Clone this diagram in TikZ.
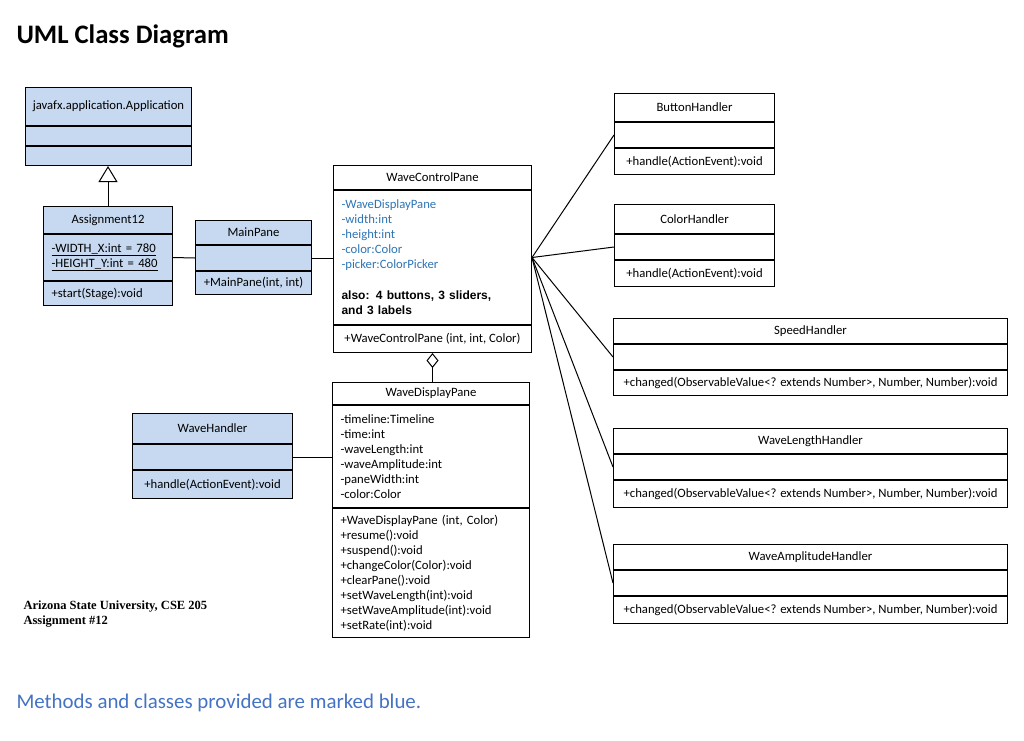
\documentclass[tikz,border=0pt]{standalone}
\usepackage{fontspec}
\setmainfont{Carlito}
\newfontfamily\serifbold{Liberation Serif}
\newfontfamily\arialfont{Liberation Sans}
\usepackage{tikz}
\usetikzlibrary{positioning,arrows.meta}
\definecolor{clsblue}{RGB}{198,217,240}
\definecolor{attrblue}{RGB}{46,116,181}
\definecolor{noteblue}{RGB}{68,114,196}

\begin{document}
\begin{tikzpicture}[x=1pt, y=-1pt, line width=1pt,
  box/.style={draw, inner ysep=0pt, font=\fontsize{12.7}{15}\selectfont},
  part/.style={box, minimum width=#1, inner xsep=0pt, align=center},
  list/.style={box, text width=#1, inner xsep=8pt, align=left}]
\useasboundingbox (0,0) rectangle (1024,740);

\node [anchor=west, inner sep=0pt, font=\fontsize{26.7}{30}\selectfont\bfseries] (title) at (16,36) {UML Class Diagram};

% provided classes
\node [part=166, minimum height=38, fill=clsblue, anchor=north west] (app) at (25,87) {javafx.application.Application};
\node [part=166, minimum height=19, fill=clsblue, below=0pt of app] (appA) {};
\node [part=166, minimum height=19, fill=clsblue, below=0pt of appA] (appM) {};

\node [part=129, minimum height=27, fill=clsblue, anchor=north west] (asg) at (43,206) {Assignment12};
\node [list=113, minimum height=46, fill=clsblue, below=0pt of asg] (asgA) {\underline{-WIDTH\_X:int = 780}\\\underline{-HEIGHT\_Y:int = 480}};
\node [list=113, minimum height=24, fill=clsblue, below=0pt of asgA] (asgM) {+start(Stage):void};

\node [part=116, minimum height=24, fill=clsblue, anchor=north west] (main) at (195,220) {MainPane};
\node [part=116, minimum height=25, fill=clsblue, below=0pt of main] (mainA) {};
\node [part=116, minimum height=23, fill=clsblue, below=0pt of mainA] (mainM) {+MainPane(int, int)};

\node [part=160, minimum height=30, fill=clsblue, anchor=north west] (wh) at (132,413) {WaveHandler};
\node [part=160, minimum height=25, fill=clsblue, below=0pt of wh] (whA) {};
\node [part=160, minimum height=28, fill=clsblue, below=0pt of whA] (whM) {+handle(ActionEvent):void};

% panes
\node [part=198, minimum height=24, anchor=north west] (wcp) at (333,165) {WaveControlPane};
\node [list=182, minimum height=134, text=attrblue, below=0pt of wcp] (wcpA) {-WaveDisplayPane\\-width:int\\-height:int\\-color:Color\\-picker:ColorPicker\\[17pt]
  \color{black}\arialfont\bfseries\fontsize{12}{14}\selectfont also: 4 buttons, 3 sliders,\\and 3 labels};
\node [part=198, minimum height=27, below=0pt of wcpA] (wcpM) {+WaveControlPane (int, int, Color)};

\node [part=197, minimum height=22, anchor=north west] (wdp) at (332,382) {WaveDisplayPane};
\node [list=181, minimum height=102, below=0pt of wdp] (wdpA) {-timeline:Timeline\\-time:int\\-waveLength:int\\-waveAmplitude:int\\-paneWidth:int\\-color:Color};
\node [list=181, minimum height=129, below=0pt of wdpA] (wdpM) {+WaveDisplayPane (int, Color)\\+resume():void\\+suspend():void\\+changeColor(Color):void\\+clearPane():void\\+setWaveLength(int):void\\+setWaveAmplitude(int):void\\+setRate(int):void};

% handlers
\node [part=160, minimum height=28, anchor=north west] (bh) at (614,93) {ButtonHandler};
\node [part=160, minimum height=25, below=0pt of bh] (bhA) {};
\node [part=160, minimum height=26, below=0pt of bhA] (bhM) {+handle(ActionEvent):void};

\node [part=160, minimum height=29, anchor=north west] (ch) at (614,204) {ColorHandler};
\node [part=160, minimum height=25, below=0pt of ch] (chA) {};
\node [part=160, minimum height=26, below=0pt of chA] (chM) {+handle(ActionEvent):void};

\node [part=394, minimum height=25, anchor=north west] (sp) at (613,318) {SpeedHandler};
\node [part=394, minimum height=25, below=0pt of sp] (spA) {};
\node [part=394, minimum height=25, below=0pt of spA] (spM) {+changed(ObservableValue<? extends Number>, Number, Number):void};

\node [part=394, minimum height=25, anchor=north west] (wl) at (613,428) {WaveLengthHandler};
\node [part=394, minimum height=25, below=0pt of wl] (wlA) {};
\node [part=394, minimum height=27, below=0pt of wlA] (wlM) {+changed(ObservableValue<? extends Number>, Number, Number):void};

\node [part=394, minimum height=25, anchor=north west] (wa) at (613,544) {WaveAmplitudeHandler};
\node [part=394, minimum height=25, below=0pt of wa] (waA) {};
\node [part=394, minimum height=27, below=0pt of waA] (waM) {+changed(ObservableValue<? extends Number>, Number, Number):void};

% connectors
\draw [-{Triangle[open, width=19pt, length=16pt]}] (asg.north) -- (asg.north |- appM.south);
\draw (asgA.east) -- (mainA.west);
\draw (mainA.east) -- (mainA.east -| wcpA.west);
\draw [{Diamond[open, width=12pt, length=15pt]}-] (wcpM.south) -- (wcpM.south |- wdp.north);
\draw (whA.east) -- (whA.east -| wdpA.west);
\foreach \h in {bh,ch,sp,wl,wa}
  \draw (wcpA.east) -- (\h A.west);

\node [anchor=west, inner sep=0pt, align=left, font=\serifbold\bfseries\fontsize{12.5}{15}\selectfont] (uni) at (23,614.5) {Arizona State University, CSE 205\\Assignment \#12};
\node [anchor=west, inner sep=0pt, text=noteblue, font=\fontsize{20.9}{24}\selectfont] (note) at (16,703) {Methods and classes provided are marked blue.};
\end{tikzpicture}
\end{document}
